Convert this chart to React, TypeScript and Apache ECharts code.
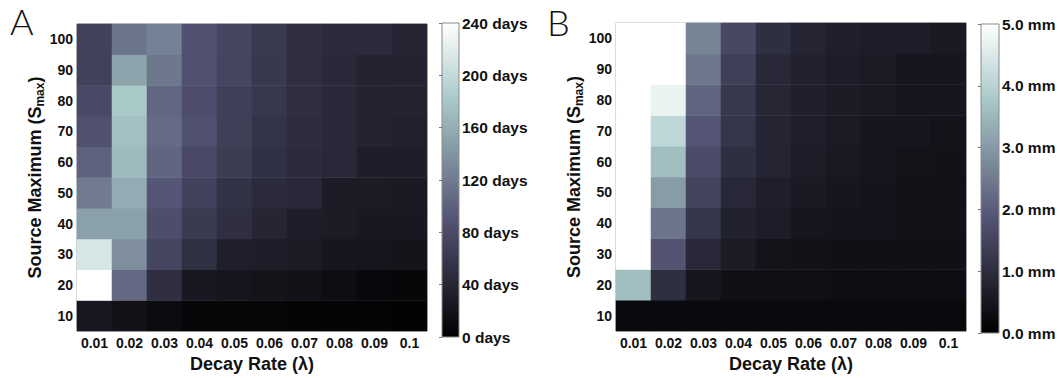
import React, { useEffect, useRef } from "react";
import * as echarts from "echarts";

const decayRates = ["0.01", "0.02", "0.03", "0.04", "0.05", "0.06", "0.07", "0.08", "0.09", "0.1"];
const sourceMaxima = ["10", "20", "30", "40", "50", "60", "70", "80", "90", "100"];

// Panel A: days, one row per source maximum (10 .. 100), columns = decay rates
const daysRows: number[][] = [
  [25, 18, 12, 8, 6, 6, 4, 5, 4, 3],
  [240, 106, 50, 26, 22, 20, 18, 14, 10, 8],
  [212, 135, 75, 52, 33, 32, 30, 24, 22, 21],
  [149, 149, 84, 62, 50, 40, 32, 30, 26, 26],
  [120, 158, 91, 71, 55, 46, 43, 30, 30, 28],
  [101, 170, 103, 78, 64, 53, 46, 43, 32, 32],
  [86, 174, 108, 86, 68, 56, 48, 44, 38, 35],
  [78, 181, 104, 84, 68, 59, 50, 43, 38, 37],
  [70, 152, 118, 86, 74, 60, 50, 44, 38, 38],
  [70, 115, 125, 86, 75, 62, 50, 46, 46, 40],
];

// Panel B: mm, one row per source maximum (10 .. 100)
const mmRows: number[][] = [
  [0.22, 0.22, 0.22, 0.22, 0.22, 0.22, 0.22, 0.22, 0.22, 0.22],
  [3.6, 1.05, 0.5, 0.35, 0.33, 0.33, 0.32, 0.32, 0.32, 0.32],
  [5.0, 1.85, 0.9, 0.6, 0.42, 0.38, 0.36, 0.36, 0.35, 0.35],
  [5.0, 2.4, 1.2, 0.75, 0.65, 0.5, 0.45, 0.43, 0.4, 0.38],
  [5.0, 3.05, 1.5, 0.9, 0.7, 0.57, 0.5, 0.45, 0.4, 0.38],
  [5.0, 3.6, 1.7, 1.05, 0.8, 0.65, 0.55, 0.48, 0.42, 0.4],
  [5.0, 4.1, 1.9, 1.2, 0.82, 0.7, 0.6, 0.5, 0.48, 0.42],
  [5.0, 4.7, 2.15, 1.25, 0.85, 0.72, 0.62, 0.55, 0.5, 0.5],
  [5.0, 5.0, 2.45, 1.4, 0.9, 0.75, 0.65, 0.6, 0.5, 0.5],
  [5.0, 5.0, 2.65, 1.6, 1.05, 0.8, 0.7, 0.65, 0.65, 0.55],
];

const daysTicks = { min: 0, max: 240, interval: 40, unit: "days" };
const mmTicks = { min: 0, max: 5, interval: 1, unit: "mm" };

const boneColors = [
  "#000000", "#1c1c27", "#38384e", "#545474", "#707b8f",
  "#8ba1ab", "#a8c7c7", "#d3e3e3", "#ffffff",
];

const FONT = "'Liberation Sans', Arial, Helvetica, sans-serif";

function toCells(rows: number[][]) {
  const out: number[][] = [];
  rows.forEach((row, yi) => row.forEach((v, xi) => out.push([xi, yi, v])));
  return out;
}

const gradient = () => ({
  type: "linear",
  x: 0, y: 1, x2: 0, y2: 0,
  colorStops: boneColors.map((c, i) => ({ offset: i / (boneColors.length - 1), color: c })),
});

export default function App() {
  const ref = useRef<HTMLDivElement>(null);
  useEffect(() => {
    if (!ref.current) return;
    const chart = echarts.init(ref.current, undefined, { renderer: "svg" });

    const panels = [
      { left: 77, top: 24, width: 350, height: 310 },
      { left: 616, top: 23, width: 350, height: 310 },
    ];
    const bars = [
      { left: 442, top: 23, width: 17, height: 314 },
      { left: 981, top: 24, width: 18, height: 309 },
    ];

    const heatX = (gi: number) => ({
      type: "category",
      gridIndex: gi,
      data: decayRates,
      axisLine: { show: false },
      axisTick: { show: false },
      splitLine: { show: false },
      axisLabel: { interval: 0, margin: 5, fontFamily: FONT, fontWeight: "bold", fontSize: 14, color: "#111" },
      name: "Decay Rate (λ)",
      nameLocation: "middle",
      nameGap: 23,
      nameTextStyle: { fontFamily: FONT, fontWeight: "bold", fontSize: 18, color: "#111" },
    });
    const heatY = (gi: number) => ({
      type: "category",
      gridIndex: gi,
      data: sourceMaxima,
      axisLine: { show: false },
      axisTick: { show: false },
      splitLine: { show: false },
      axisLabel: { interval: 0, margin: 4, fontFamily: FONT, fontWeight: "bold", fontSize: 14, color: "#111" },
      name: "Source Maximum (S{sub|max})",
      nameLocation: "middle",
      nameGap: 22,
      nameTextStyle: {
        fontFamily: FONT, fontWeight: "bold", fontSize: 18, color: "#111", lineHeight: 22,
        rich: { sub: { fontFamily: FONT, fontWeight: "bold", fontSize: 12, color: "#111", verticalAlign: "bottom", lineHeight: 16, padding: [7, 0, 0, 0] } },
      },
    });
    const barY = (gi: number, t: typeof daysTicks) => ({
      type: "value",
      gridIndex: gi,
      position: "right",
      min: t.min,
      max: t.max,
      interval: t.interval,
      axisLine: { show: false },
      splitLine: { show: false },
      axisTick: { show: true, inside: true, length: 3, lineStyle: { color: "#777" } },
      axisLabel: {
        margin: 3,
        fontFamily: FONT, fontWeight: "bold", fontSize: 15.5, color: "#111",
        formatter: (v: number) => (t.unit === "mm" ? v.toFixed(1) : String(v)) + " " + t.unit,
      },
    });

    chart.setOption({
      animation: false,
      backgroundColor: "#ffffff",
      grid: [
        { ...panels[0], show: true, borderColor: "#a0a0a0", borderWidth: 1, backgroundColor: "transparent" },
        { ...panels[1], show: true, borderColor: "#a0a0a0", borderWidth: 1, backgroundColor: "transparent" },
        { ...bars[0] },
        { ...bars[1] },
      ],
      xAxis: [
        heatX(0),
        heatX(1),
        { type: "value", gridIndex: 2, show: false, min: 0, max: 1 },
        { type: "value", gridIndex: 3, show: false, min: 0, max: 1 },
      ],
      yAxis: [heatY(0), heatY(1), barY(2, daysTicks), barY(3, mmTicks)],
      visualMap: [
        { show: false, type: "continuous", seriesIndex: 0, dimension: 2, min: daysTicks.min, max: daysTicks.max, inRange: { color: boneColors } },
        { show: false, type: "continuous", seriesIndex: 1, dimension: 2, min: mmTicks.min, max: mmTicks.max, inRange: { color: boneColors } },
      ],
      series: [
        { type: "heatmap", xAxisIndex: 0, yAxisIndex: 0, data: toCells(daysRows), emphasis: { disabled: true }, z: 1 },
        { type: "heatmap", xAxisIndex: 1, yAxisIndex: 1, data: toCells(mmRows), emphasis: { disabled: true }, z: 1 },
      ],
      graphic: [
        { type: "text", left: 10, top: 3, style: { text: "A", fontFamily: "Lato, 'Open Sans', sans-serif", fontWeight: 300, fontSize: 36, fill: "#111" } },
        { type: "text", left: 547, top: 4, style: { text: "B", fontFamily: "Lato, 'Open Sans', sans-serif", fontWeight: 300, fontSize: 36, fill: "#111" } },
        ...bars.map((b) => ({
          type: "rect",
          z: -1,
          shape: { x: b.left, y: b.top, width: b.width, height: b.height },
          style: { fill: gradient(), stroke: "#8a8a8a", lineWidth: 1 },
        })),
      ],
    });
    return () => chart.dispose();
  }, []);
  return <div ref={ref} style={{ position: "fixed", left: 0, top: 0, width: 1060, height: 378 }} />;
}
